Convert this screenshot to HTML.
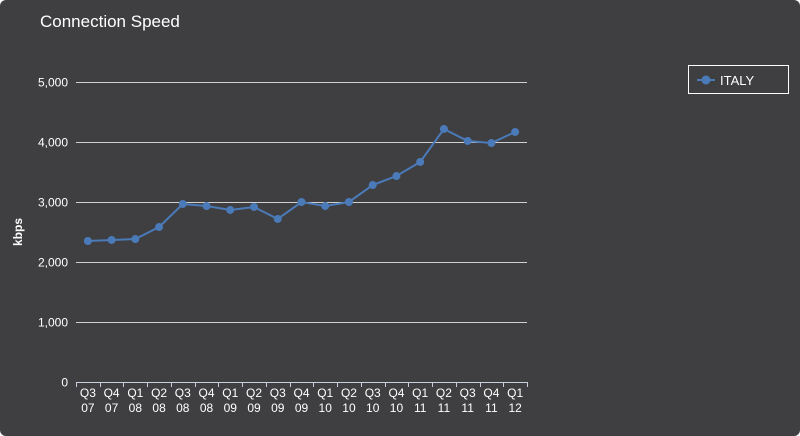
<!DOCTYPE html>
<html><head><meta charset="utf-8"><style>
body{margin:0;background:#fff;}
#wrap{width:800px;height:436px;background:#3f3f41;border-radius:6px;position:relative;overflow:hidden;font-family:"Liberation Sans",sans-serif;}
svg text{font-family:"Liberation Sans",sans-serif;fill:#fff;}
</style></head><body>
<div id="wrap">
<svg id="chart" width="800" height="436">
<text x="40" y="27" font-size="17">Connection Speed</text>
<text transform="translate(22,232) rotate(-90)" text-anchor="middle" font-size="12" font-weight="bold">kbps</text>
<g id="grid"></g><g id="xaxis"></g><g id="series"></g>
<g>
<rect x="688.5" y="65.5" width="100" height="28" fill="none" stroke="#fff" stroke-width="1"/>
<line x1="697" y1="80" x2="715" y2="80" stroke="#4a7ab8" stroke-width="2"/>
<circle cx="706" cy="80" r="4.5" fill="#4a7ab8"/>
<text x="720" y="85" font-size="13">ITALY</text>
</g>
</svg>
</div>
<script>
const categories=["Q3 07","Q4 07","Q1 08","Q2 08","Q3 08","Q4 08","Q1 09","Q2 09","Q3 09","Q4 09","Q1 10","Q2 10","Q3 10","Q4 10","Q1 11","Q2 11","Q3 11","Q4 11","Q1 12"];
const italy=[2350,2367,2383,2583,2967,2933,2867,2917,2717,3000,2933,3000,3283,3433,3667,4217,4017,3983,4167];
const yTicks=[0,1000,2000,3000,4000,5000];
const yTickLabels=["0","1,000","2,000","3,000","4,000","5,000"];
const NS="http://www.w3.org/2000/svg";
const x0=76,x1=527,y0=382,y1=82,yMax=5000;
const band=(x1-x0)/categories.length;
const xs=i=>x0+band*(i+0.5);
const ys=v=>y0-(v/yMax)*(y0-y1);
function mk(t,a,p){const e=document.createElementNS(NS,t);for(const k in a)e.setAttribute(k,a[k]);p.appendChild(e);return e;}
const grid=document.getElementById('grid'),xa=document.getElementById('xaxis'),se=document.getElementById('series');
yTicks.forEach((v,i)=>{const y=Math.round(ys(v))+0.5;
 if(v>0){const l=mk('line',{x1:x0,x2:x1,y1:y,y2:y,stroke:'#d0d0d0','stroke-width':1},grid);
 
 }
 const t=mk('text',{x:68,y:y+4,'text-anchor':'end','font-size':12},grid);t.textContent=yTickLabels[i];
 
 
});
const ax=mk('line',{x1:x0,x2:x1,y1:y0+0.5,y2:y0+0.5,stroke:'#c8d0e0','stroke-width':1},xa);


categories.forEach((c,i)=>{
 const tx=Math.round(x0+band*i)+0.5;
 const tk=mk('line',{x1:tx,x2:tx,y1:y0,y2:y0+5,stroke:'#c8d0e0'},xa);
 
 
 const p=c.split(' ');
 const t=mk('text',{x:xs(i),y:y0+15,'text-anchor':'middle','font-size':12},xa);
 
 
 const a=mk('tspan',{x:xs(i),dy:0},t);a.textContent=p[0];
 const b=mk('tspan',{x:xs(i),dy:15},t);b.textContent=p[1];
});
const tx2=Math.round(x1)+0.5;
const lt=mk('line',{x1:tx2,x2:tx2,y1:y0,y2:y0+5,stroke:'#c8d0e0'},xa);


const pl=mk('polyline',{points:italy.map((v,i)=>xs(i)+','+ys(v)).join(' '),fill:'none',stroke:'#4a7ab8','stroke-width':2},se);


italy.forEach((v,i)=>{const c=mk('circle',{cx:xs(i),cy:ys(v),r:4,fill:'#4a7ab8'},se);
 
 });
</script>
</body></html>
